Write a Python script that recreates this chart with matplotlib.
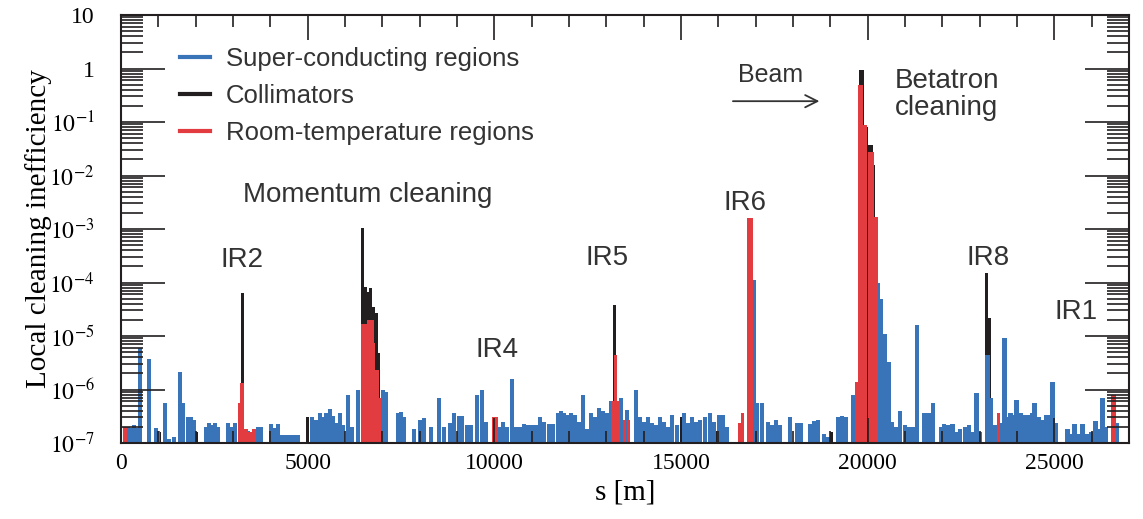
import numpy as np
import matplotlib.pyplot as plt
from matplotlib.lines import Line2D
from matplotlib.ticker import MultipleLocator, LogLocator, NullFormatter

plt.rcParams['font.family'] = ['Liberation Serif', 'DejaVu Serif']
plt.rcParams['mathtext.fontset'] = 'stix'

# super-conducting regions (s [m], local inefficiency)
sc_s = [187, 268, 348, 428, 509, 750, 937, 990, 1178, 1285, 1419, 1579, 1660, 1794, 1874, 1954,
        2276, 2356, 2436, 2516, 2597, 2864, 2945, 3052, 3400, 3667, 3748, 4016, 4122, 4203, 4310,
        4417, 4524, 4631, 4738, 5113, 5220, 5327, 5407, 5488, 5595, 5675, 5756, 5863, 5943, 6077,
        6184, 6344, 7014, 7094, 7415, 7496, 7576, 7843, 8004, 8111, 8299, 8513, 8647, 8807, 8914,
        9048, 9128, 9262, 9369, 9530, 9664, 9771, 10119, 10226, 10333, 10467, 10574, 10681, 10788,
        10895, 11002, 11109, 11216, 11324, 11457, 11565, 11698, 11779, 11859, 11939, 12046, 12153,
        12260, 12367, 12474, 12582, 12689, 12796, 12903, 13010, 13117, 13385, 13545, 13786, 13893,
        14000, 14108, 14215, 14322, 14429, 14536, 14643, 14750, 14884, 15071, 15178, 15285, 15392,
        15500, 15633, 15767, 15874, 16008, 16115, 16222, 16945, 17025, 17159, 17320, 17427, 17534,
        17641, 17909, 18096, 18203, 18444, 18551, 18659, 18819, 18926, 19194, 19301, 19408, 19596,
        19676, 20265, 20345, 20452, 20559, 20640, 20747, 20854, 20988, 21095, 21202, 21309, 21496,
        21603, 21684, 21737, 21951, 22032, 22139, 22272, 22353, 22460, 22594, 22701, 22808, 22915,
        22995, 23209, 23290, 23423, 23557, 23664, 23744, 23824, 23905, 23985, 24093, 24200, 24307,
        24414, 24468, 24575, 24682, 24789, 24869, 24950, 25030, 25351, 25458, 25538, 25645, 25752,
        25886, 25993, 26100, 26208, 26288, 26368, 26663]
sc_v = [2.0e-7, 1.9e-7, 2.2e-7, 1.9e-7, 6.0e-6, 3.7e-6, 1.9e-7, 1.7e-7, 5.6e-7, 1.2e-7, 1.3e-7,
        2.1e-6, 5.6e-7, 3.0e-7, 3.0e-7, 2.7e-7, 2.0e-7, 2.4e-7, 2.2e-7, 2.4e-7, 2.0e-7, 2.4e-7,
        2.0e-7, 2.4e-7, 1.7e-7, 2.0e-7, 2.0e-7, 2.3e-7, 1.9e-7, 2.3e-7, 1.4e-7, 1.4e-7, 1.4e-7,
        1.4e-7, 1.4e-7, 3.0e-7, 2.7e-7, 3.6e-7, 3.0e-7, 3.6e-7, 4.3e-7, 3.2e-7, 2.4e-7, 3.6e-7,
        2.2e-7, 8.0e-7, 2.0e-7, 1.0e-6, 1.0e-6, 9.0e-7, 3.6e-7, 3.8e-7, 3.0e-7, 1.8e-7, 2.7e-7,
        2.9e-7, 2.0e-7, 7.0e-7, 2.0e-7, 2.4e-7, 3.6e-7, 3.2e-7, 3.2e-7, 2.2e-7, 2.2e-7, 8.0e-7,
        1.0e-6, 2.5e-7, 2.0e-7, 2.5e-7, 2.0e-7, 1.6e-6, 2.0e-7, 2.0e-7, 2.3e-7, 2.2e-7, 2.2e-7,
        2.2e-7, 3.0e-7, 2.5e-7, 2.3e-7, 2.3e-7, 3.6e-7, 3.9e-7, 3.6e-7, 3.3e-7, 3.6e-7, 3.3e-7,
        2.5e-7, 8.0e-7, 1.8e-7, 3.6e-7, 3.0e-7, 4.6e-7, 4.0e-7, 3.6e-7, 6.0e-7, 7.0e-7, 4.2e-7,
        1.0e-6, 3.0e-7, 2.5e-7, 3.1e-7, 2.4e-7, 2.2e-7, 3.1e-7, 2.5e-7, 2.0e-7, 3.4e-7, 2.2e-7,
        3.6e-7, 2.4e-7, 3.0e-7, 2.5e-7, 2.7e-7, 3.1e-7, 3.6e-7, 2.5e-7, 3.3e-7, 3.4e-7, 2.0e-7,
        1.1e-4, 5.6e-7, 5.6e-7, 2.5e-7, 2.2e-7, 2.7e-7, 2.2e-7, 3.0e-7, 2.4e-7, 2.4e-7, 2.3e-7,
        2.6e-7, 2.7e-7, 1.5e-7, 1.3e-7, 3.1e-7, 3.2e-7, 3.1e-7, 8.0e-7, 3.0e-7, 1.0e-4, 5.0e-5,
        1.1e-5, 3.2e-6, 2.5e-7, 2.0e-7, 4.0e-7, 2.2e-7, 2.0e-7, 2.0e-7, 1.6e-5, 3.6e-7, 3.6e-7,
        3.6e-7, 5.6e-7, 2.0e-7, 2.3e-7, 2.2e-7, 2.3e-7, 1.6e-7, 1.8e-7, 2.0e-7, 2.2e-7, 1.6e-7,
        8.6e-7, 1.6e-7, 4.4e-6, 7.0e-7, 2.2e-7, 2.4e-7, 9.0e-6, 3.0e-7, 3.6e-7, 3.3e-7, 6.4e-7,
        3.6e-7, 3.3e-7, 3.3e-7, 3.6e-7, 5.6e-7, 3.0e-7, 2.7e-7, 3.3e-7, 3.3e-7, 1.4e-6, 2.4e-7,
        1.8e-7, 1.5e-7, 2.3e-7, 1.5e-7, 2.3e-7, 1.5e-7, 1.6e-7, 2.6e-7, 1.8e-7, 7.0e-7, 2.0e-7,
        2.4e-7]

# collimators
coll_s = [1017, 2008, 3266, 5006, 6478, 6540, 6612, 6692, 6760, 6840, 6907, 6960, 13223, 15018,
          15981, 19034, 19797, 19850, 19904, 19957, 20011, 20092, 20159, 23183, 23263, 26208]
coll_v = [1.6e-7, 1.6e-7, 6.3e-5, 3.0e-7, 1.05e-3, 8.3e-5, 6.7e-5, 8.0e-5, 3.5e-5, 2.7e-5, 4.8e-6,
          6.0e-7, 3.8e-5, 3.0e-7, 1.7e-7, 1.6e-7, 0.93, 0.93, 0.08, 0.08, 0.037, 0.037, 0.016,
          1.5e-4, 2.2e-5, 1.5e-7]

# room-temperature regions
rt_s = [107, 3186, 3239, 3346, 3453, 3560, 6478, 6559, 6639, 6720, 6773, 6827, 6880, 6933, 9984,
        10066, 13170, 13240, 13310, 13492, 13599, 16570, 16651, 16811, 16880, 19703, 19770, 19837,
        19890, 19944, 20060, 20115, 20165, 20220, 23504, 26556, 26610]
rt_v = [2.0e-7, 5.6e-7, 1.3e-6, 1.8e-7, 1.6e-7, 1.8e-7, 1.7e-5, 1.7e-5, 2.0e-5, 2.0e-5, 7.4e-6,
        2.3e-6, 2.3e-6, 7.0e-7, 3.1e-7, 3.1e-7, 6.0e-7, 4.4e-6, 6.0e-7, 2.7e-7, 2.7e-7, 2.4e-7,
        3.6e-7, 1.6e-3, 1.6e-3, 1.4e-6, 0.49, 0.49, 0.087, 0.087, 0.027, 0.027, 1.7e-3, 1.7e-3,
        3.7e-7, 8.0e-7, 8.0e-7]

ytick_vals = [1e-7, 1e-6, 1e-5, 1e-4, 1e-3, 1e-2, 1e-1, 1, 10]
ytick_labels = ['$10^{-7}$', '$10^{-6}$', '$10^{-5}$', '$10^{-4}$', '$10^{-3}$',
                '$10^{-2}$', '$10^{-1}$', '1', '10']

blue = '#3a74b8'
black = '#231f20'
red = '#e23c40'
floor = 1e-7

fig = plt.figure(figsize=(11.43, 5.19), dpi=100)
ax = fig.add_axes([0.1059, 0.1464, 0.8819, 0.8247])

ax.bar(coll_s, np.array(coll_v) - floor, bottom=floor, width=80, color=black, linewidth=0)
ax.bar(sc_s, np.array(sc_v) - floor, bottom=floor, width=110, color=blue, linewidth=0)
ax.bar(rt_s, np.array(rt_v) - floor, bottom=floor, width=85, color=red, linewidth=0)

ax.set_yscale('log')
ax.set_ylim(1e-7, 10)
ax.set_xlim(0, 27000)
ax.set_yticks(ytick_vals, ytick_labels)
ax.yaxis.set_minor_locator(LogLocator(base=10, subs=np.arange(2, 10), numticks=100))
ax.yaxis.set_minor_formatter(NullFormatter())
ax.xaxis.set_major_locator(MultipleLocator(5000))
ax.xaxis.set_minor_locator(MultipleLocator(1000))

ax.tick_params(which='both', direction='in', top=True, right=True, width=1.2, color=black)
ax.tick_params(axis='x', which='major', length=18, labelsize=17, pad=7)
ax.tick_params(axis='x', which='minor', length=8.6)
ax.tick_params(axis='y', which='major', length=32, labelsize=17, pad=19)
ax.tick_params(axis='y', which='minor', length=16)
for sp in ax.spines.values():
    sp.set_linewidth(1.5)
    sp.set_color(black)

ax.set_xlabel('s [m]', fontsize=21, labelpad=4)
ax.set_ylabel('Local cleaning inefficiency', fontsize=21, labelpad=-2)

sans = ['Liberation Sans', 'DejaVu Sans']
tc = '#333333'
ax.text(3242, 2.6e-4, 'IR2', family=sans, fontsize=20, color=tc, ha='center', va='center')
ax.text(6617, 4.4e-3, 'Momentum cleaning', family=sans, fontsize=20, color=tc, ha='center', va='center')
ax.text(10073, 5.5e-6, 'IR4', family=sans, fontsize=20, color=tc, ha='center', va='center')
ax.text(13020, 2.9e-4, 'IR5', family=sans, fontsize=20, color=tc, ha='center', va='center')
ax.text(16717, 3.1e-3, 'IR6', family=sans, fontsize=20, color=tc, ha='center', va='center')
ax.text(17387, 0.76, 'Beam', family=sans, fontsize=18, color=tc, ha='center', va='center')
ax.annotate('', xy=(18780, 0.245), xytext=(16315, 0.245),
            arrowprops=dict(arrowstyle='->', lw=1.3, color=tc, mutation_scale=22))
ax.text(20735, 0.32, 'Betatron\ncleaning', family=sans, fontsize=20, color=tc,
        ha='left', va='center', linespacing=1.05)
ax.text(23227, 2.9e-4, 'IR8', family=sans, fontsize=20, color=tc, ha='center', va='center')
ax.text(25584, 2.8e-5, 'IR1', family=sans, fontsize=20, color=tc, ha='center', va='center')

handles = [Line2D([], [], color=blue, lw=3), Line2D([], [], color=black, lw=3),
           Line2D([], [], color=red, lw=3)]
labels = ['Super-conducting regions', 'Collimators', 'Room-temperature regions']
ax.legend(handles, labels, loc='upper left', bbox_to_anchor=(0.058, 0.925), frameon=False,
          prop={'family': sans, 'size': 18.5}, handlelength=1.2, handletextpad=0.6,
          labelspacing=0.5, borderpad=0, borderaxespad=0, labelcolor=tc)

fig.savefig('out.png', dpi=100)
